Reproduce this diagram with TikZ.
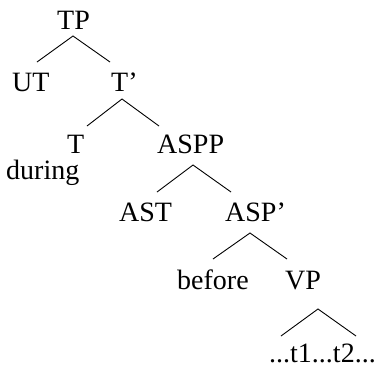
\documentclass[tikz,border=0pt]{standalone}
\usepackage{fontspec}
\setmainfont{Liberation Serif}
\begin{document}
\begin{tikzpicture}[x=1pt,y=-1pt,
  lbl/.style={anchor=base west,inner sep=0pt,font=\fontsize{28}{30}\selectfont},
  edge/.style={line width=0.9pt}]
\useasboundingbox (0,0) rectangle (378,368);
\node[lbl] (tp) at (57,29) {TP};
\node[lbl] (ut) at (12,91) {UT};
\node[lbl] (tbar) at (111,91) {T’};
\node[lbl,text depth=0pt] (t) at (67,153) {T};
\node[lbl] (during) at (6,179) {during};
\node[lbl] (aspp) at (157,153) {ASPP};
\node[lbl] (ast) at (119,221) {AST};
\node[lbl] (aspbar) at (225,221) {ASP’};
\node[lbl] (before) at (177,289) {before};
\node[lbl] (vp) at (285,289) {VP};
\node[lbl,text depth=0pt] (traces) at (269,362) {...t1...t2...};
% connector end points
\coordinate (a1) at (73,36);  \coordinate (l1) at (37,62);  \coordinate (r1) at (110,62);
\coordinate (a2) at (122,99); \coordinate (l2) at (87,126); \coordinate (r2) at (159,126);
\coordinate (a3) at (193,165); \coordinate (l3) at (157,192); \coordinate (r3) at (231,192);
\coordinate (a4) at (250,233); \coordinate (l4) at (213,259); \coordinate (r4) at (287,259);
\coordinate (a5) at (318,309); \coordinate (l5) at (281,336); \coordinate (r5) at (356,336);
\draw[edge] (l1) -- (a1) -- (r1);
\draw[edge] (l2) -- (a2) -- (r2);
\draw[edge] (l3) -- (a3) -- (r3);
\draw[edge] (l4) -- (a4) -- (r4);
\draw[edge] (l5) -- (a5) -- (r5);
\end{tikzpicture}
\end{document}
